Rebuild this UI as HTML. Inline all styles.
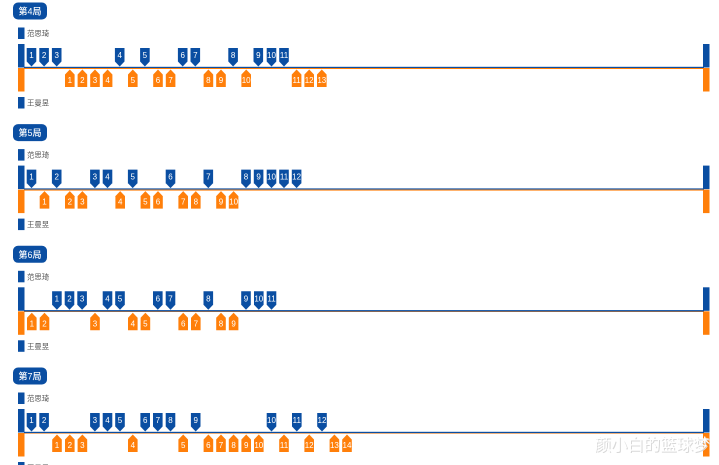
<!DOCTYPE html>
<html><head><meta charset="utf-8"><style>
html,body{margin:0;padding:0;background:#fff;width:719px;height:465px;overflow:hidden}
svg{display:block;position:absolute;left:0;top:0}
text{font-family:"Liberation Sans","Noto Sans CJK SC",sans-serif}
.n text{font-size:8px;fill:#fff;text-anchor:middle;font-weight:400}
.t{font-size:9px;fill:#fff;font-weight:500;text-anchor:middle}
.l{font-size:7.400px;fill:#555}
</style></head><body>
<svg width="719" height="465" viewBox="0 0 719 465" xmlns="http://www.w3.org/2000/svg">
<defs>
<path id="b" d="M-4.8 48H4.8V61.5L0 66.5L-4.8 61.5Z" fill="#0a4ea2"/>
<path id="o" d="M-4.8 87H4.8V74.5L0 69.5L-4.8 74.5Z" fill="#ff7f0a"/>
<g id="f">
<rect x="13" y="2.500" width="34" height="17" rx="5" fill="#0a4ea2"/>
<rect x="18" y="27.500" width="6.500" height="11.500" fill="#0a4ea2"/>
<text class="l" x="27" y="36">范思琦</text>
<rect x="18" y="44" width="6.500" height="23.500" fill="#0a4ea2"/>
<rect x="18" y="68" width="6.500" height="23.500" fill="#ff7f0a"/>
<rect x="703" y="44" width="6.500" height="23.500" fill="#0a4ea2"/>
<rect x="703" y="68" width="6.500" height="23.500" fill="#ff7f0a"/>
<rect x="18" y="97" width="6.500" height="11.500" fill="#0a4ea2"/>
<text class="l" x="27" y="105.500">王曼昱</text>
</g>
</defs>

<g>
<use href="#f"/>
<rect x="24" y="66.800" width="680" height="1.200" fill="#0a4ea2"/><rect x="24" y="68" width="680" height="1" fill="#ff7f0a"/>
<text class="t" x="30" y="14.500">第4局</text>
<g class="n">
<use href="#b" x="31.5"/><text x="31.5" y="58">1</text>
<use href="#b" x="44.1"/><text x="44.1" y="58">2</text>
<use href="#b" x="56.7"/><text x="56.7" y="58">3</text>
<use href="#b" x="119.7"/><text x="119.7" y="58">4</text>
<use href="#b" x="144.9"/><text x="144.9" y="58">5</text>
<use href="#b" x="182.7"/><text x="182.7" y="58">6</text>
<use href="#b" x="195.3"/><text x="195.3" y="58">7</text>
<use href="#b" x="233.1"/><text x="233.1" y="58">8</text>
<use href="#b" x="258.3"/><text x="258.3" y="58">9</text>
<use href="#b" x="271.5"/><text x="271.5" y="58">10</text>
<use href="#b" x="284"/><text x="284" y="58">11</text>
<use href="#o" x="69.8"/><text x="69.8" y="83">1</text>
<use href="#o" x="82.4"/><text x="82.4" y="83">2</text>
<use href="#o" x="95"/><text x="95" y="83">3</text>
<use href="#o" x="107.6"/><text x="107.6" y="83">4</text>
<use href="#o" x="132.8"/><text x="132.8" y="83">5</text>
<use href="#o" x="158"/><text x="158" y="83">6</text>
<use href="#o" x="170.6"/><text x="170.6" y="83">7</text>
<use href="#o" x="208.4"/><text x="208.4" y="83">8</text>
<use href="#o" x="221"/><text x="221" y="83">9</text>
<use href="#o" x="246.2"/><text x="246.2" y="83">10</text>
<use href="#o" x="296.6"/><text x="296.6" y="83">11</text>
<use href="#o" x="309.2"/><text x="309.2" y="83">12</text>
<use href="#o" x="321.8"/><text x="321.8" y="83">13</text>
</g></g>

<g transform="translate(0,121.600)">
<use href="#f"/>
<rect x="24" y="66.800" width="680" height="1.200" fill="#0a4ea2"/><rect x="24" y="68" width="680" height="1" fill="#ff7f0a"/>
<text class="t" x="30" y="14.500">第5局</text>
<g class="n">
<use href="#b" x="31.5"/><text x="31.5" y="58">1</text>
<use href="#b" x="56.7"/><text x="56.7" y="58">2</text>
<use href="#b" x="94.9"/><text x="94.9" y="58">3</text>
<use href="#b" x="107.5"/><text x="107.5" y="58">4</text>
<use href="#b" x="132.7"/><text x="132.7" y="58">5</text>
<use href="#b" x="170.5"/><text x="170.5" y="58">6</text>
<use href="#b" x="208.3"/><text x="208.3" y="58">7</text>
<use href="#b" x="246"/><text x="246" y="58">8</text>
<use href="#b" x="258.6"/><text x="258.6" y="58">9</text>
<use href="#b" x="271.5"/><text x="271.5" y="58">10</text>
<use href="#b" x="284"/><text x="284" y="58">11</text>
<use href="#b" x="296.6"/><text x="296.6" y="58">12</text>
<use href="#o" x="44.5"/><text x="44.5" y="83">1</text>
<use href="#o" x="69.8"/><text x="69.8" y="83">2</text>
<use href="#o" x="82.4"/><text x="82.4" y="83">3</text>
<use href="#o" x="120.2"/><text x="120.2" y="83">4</text>
<use href="#o" x="145.4"/><text x="145.4" y="83">5</text>
<use href="#o" x="158"/><text x="158" y="83">6</text>
<use href="#o" x="183.2"/><text x="183.2" y="83">7</text>
<use href="#o" x="195.8"/><text x="195.8" y="83">8</text>
<use href="#o" x="221"/><text x="221" y="83">9</text>
<use href="#o" x="233.600"/><text x="233.600" y="83">10</text>
</g></g>

<g transform="translate(0,243.300)">
<use href="#f"/>
<rect x="24" y="66.800" width="680" height="1.400" fill="#0a4ea2"/><rect x="24" y="68.200" width="680" height=".5" fill="#ff7f0a"/>
<text class="t" x="30" y="14.500">第6局</text>
<g class="n">
<use href="#b" x="56.9"/><text x="56.9" y="58">1</text>
<use href="#b" x="69.5"/><text x="69.5" y="58">2</text>
<use href="#b" x="82.1"/><text x="82.1" y="58">3</text>
<use href="#b" x="107.5"/><text x="107.5" y="58">4</text>
<use href="#b" x="120"/><text x="120" y="58">5</text>
<use href="#b" x="157.8"/><text x="157.8" y="58">6</text>
<use href="#b" x="170.5"/><text x="170.5" y="58">7</text>
<use href="#b" x="208.3"/><text x="208.3" y="58">8</text>
<use href="#b" x="246"/><text x="246" y="58">9</text>
<use href="#b" x="258.8"/><text x="258.8" y="58">10</text>
<use href="#b" x="271.5"/><text x="271.5" y="58">11</text>
<use href="#o" x="31.8"/><text x="31.8" y="83">1</text>
<use href="#o" x="44.5"/><text x="44.5" y="83">2</text>
<use href="#o" x="95"/><text x="95" y="83">3</text>
<use href="#o" x="132.8"/><text x="132.8" y="83">4</text>
<use href="#o" x="145.4"/><text x="145.4" y="83">5</text>
<use href="#o" x="183.2"/><text x="183.2" y="83">6</text>
<use href="#o" x="195.8"/><text x="195.8" y="83">7</text>
<use href="#o" x="221"/><text x="221" y="83">8</text>
<use href="#o" x="233.600"/><text x="233.600" y="83">9</text>
</g></g>

<g transform="translate(0,365)">
<use href="#f"/>
<rect x="24" y="66.800" width="680" height="1.400" fill="#0a4ea2"/><rect x="24" y="68.200" width="680" height=".5" fill="#ff7f0a"/>
<text class="t" x="30" y="14.500">第7局</text>
<g class="n">
<use href="#b" x="31.5"/><text x="31.5" y="58">1</text>
<use href="#b" x="44.1"/><text x="44.1" y="58">2</text>
<use href="#b" x="94.9"/><text x="94.9" y="58">3</text>
<use href="#b" x="107.5"/><text x="107.5" y="58">4</text>
<use href="#b" x="120"/><text x="120" y="58">5</text>
<use href="#b" x="145.2"/><text x="145.2" y="58">6</text>
<use href="#b" x="157.8"/><text x="157.8" y="58">7</text>
<use href="#b" x="170.5"/><text x="170.5" y="58">8</text>
<use href="#b" x="195.7"/><text x="195.7" y="58">9</text>
<use href="#b" x="271.5"/><text x="271.5" y="58">10</text>
<use href="#b" x="296.8"/><text x="296.8" y="58">11</text>
<use href="#b" x="322"/><text x="322" y="58">12</text>
<use href="#o" x="57"/><text x="57" y="83">1</text>
<use href="#o" x="69.8"/><text x="69.8" y="83">2</text>
<use href="#o" x="82.4"/><text x="82.4" y="83">3</text>
<use href="#o" x="132.8"/><text x="132.8" y="83">4</text>
<use href="#o" x="183.2"/><text x="183.2" y="83">5</text>
<use href="#o" x="208.4"/><text x="208.4" y="83">6</text>
<use href="#o" x="221"/><text x="221" y="83">7</text>
<use href="#o" x="233.600"/><text x="233.600" y="83">8</text>
<use href="#o" x="246.2"/><text x="246.2" y="83">9</text>
<use href="#o" x="258.8"/><text x="258.8" y="83">10</text>
<use href="#o" x="284"/><text x="284" y="83">11</text>
<use href="#o" x="309.2"/><text x="309.2" y="83">12</text>
<use href="#o" x="334.4"/><text x="334.4" y="83">13</text>
<use href="#o" x="347"/><text x="347" y="83">14</text>
</g></g>

<text x="595.500" y="451.500" font-size="16.500" fill="#d8d8d8" textLength="115">颜小白的篮球梦</text>
<text x="594.500" y="450.500" font-size="16.500" fill="#ffffff" textLength="115">颜小白的篮球梦</text>
</svg>
</body></html>
